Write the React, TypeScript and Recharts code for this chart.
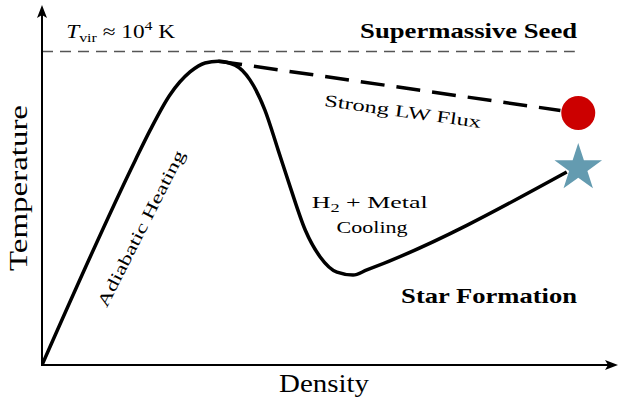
import { ComposedChart, Line, XAxis, YAxis, ReferenceLine, ReferenceDot, Label } from "recharts";

// thermal track of the collapsing gas (arbitrary units)
const trackDensity = [0, 1.62, 1.88, 2.22, 2.57, 2.83, 3.06, 3.35, 3.61, 3.87, 4.1, 4.31, 4.57, 4.83, 5.12, 5.4, 5.64, 9.11];
const trackTemperature = [0, 5.69, 6.53, 7.5, 8.14, 8.39, 8.44, 8.33, 7.92, 7.08, 5.97, 4.94, 3.75, 3.0, 2.58, 2.5, 2.64, 5.36];

// branch kept hot by a strong Lyman-Werner background
const lwDensity = [3.06, 9.0];
const lwTemperature = [8.44, 7.07];

// end states: direct-collapse seed (circle) and star formation (star)
const seedDensity = 9.31;
const seedTemperature = 7.0;
const starDensity = 9.31;
const starTemperature = 5.47;

const virialTemperature = 8.71;
const virialDensityEnd = 9.25;

const track = trackDensity.map((x, i) => ({ x, y: trackTemperature[i] }));
const lwTrack = lwDensity.map((x, i) => ({ x, y: lwTemperature[i] }));

const FONT = "'Liberation Serif', 'DejaVu Serif', serif";

const Arrow = (props: any) => {
  const { x1, y1, x2, y2 } = props;
  const len = Math.hypot(x2 - x1, y2 - y1);
  const ux = (x2 - x1) / len;
  const uy = (y2 - y1) / len;
  const head = 13;
  const half = 5;
  const bx = x2 - ux * head;
  const by = y2 - uy * head;
  const pts = [
    `${x2},${y2}`,
    `${bx - uy * half},${by + ux * half}`,
    `${bx + ux * 3},${by + uy * 3}`,
    `${bx + uy * half},${by - ux * half}`,
  ].join(" ");
  return (
    <g>
      <line x1={x1 - ux} y1={y1 - uy} x2={bx + ux * 4} y2={by + uy * 4} stroke="#000" strokeWidth={2} />
      <polygon points={pts} fill="#000" />
    </g>
  );
};

const Star = (props: any) => {
  const { cx, cy } = props;
  const R = 25;
  const r = 9.6;
  const pts: string[] = [];
  for (let i = 0; i < 10; i++) {
    const rad = i % 2 === 0 ? R : r;
    const a = -Math.PI / 2 + (i * Math.PI) / 5;
    pts.push(`${cx + rad * Math.cos(a)},${cy + rad * Math.sin(a)}`);
  }
  return <polygon points={pts.join(" ")} fill="#649bb0" />;
};

const textAt =
  (content: any, opts: { size: number; bold?: boolean; anchor?: string; angle?: number; length?: number }) =>
  (props: any) => {
    const { cx, cy } = props;
    return (
      <text
        x={cx}
        y={cy}
        fontFamily={FONT}
        fontSize={opts.size}
        fontWeight={opts.bold ? "bold" : "normal"}
        textAnchor={opts.anchor ?? "middle"}
        fill="#000"
        textLength={opts.length}
        lengthAdjust="spacingAndGlyphs"
        transform={opts.angle ? `rotate(${opts.angle} ${cx} ${cy})` : undefined}
      >
        {content}
      </text>
    );
  };

const DensityLabel = (props: any) => {
  const { x, y, width } = props.viewBox;
  return (
    <text x={x + width / 2 - 6} y={y + 27} fontFamily={FONT} fontSize={25} textAnchor="middle" textLength={90} lengthAdjust="spacingAndGlyphs">
      Density
    </text>
  );
};

const TemperatureLabel = (props: any) => {
  const { y, height } = props.viewBox;
  const cx = 27;
  const cy = y + height / 2 + 3;
  return (
    <text
      x={cx}
      y={cy}
      fontFamily={FONT}
      fontSize={25}
      textAnchor="middle"
      textLength={166}
      lengthAdjust="spacingAndGlyphs"
      transform={`rotate(-90 ${cx} ${cy})`}
    >
      Temperature
    </text>
  );
};

export default function App() {
  return (
    <div style={{ position: "fixed", left: 0, top: 0, width: 619, height: 401, background: "#fff" }}>
      <ComposedChart width={619} height={401} margin={{ top: 5, right: 1, bottom: 0, left: 0 }}>
        <XAxis
          type="number"
          dataKey="x"
          domain={[0, 10]}
          allowDataOverflow
          tick={false}
          tickLine={false}
          axisLine={false}
          height={36}
        >
          <Label content={DensityLabel} />
        </XAxis>
        <YAxis type="number" domain={[0, 10]} allowDataOverflow tick={false} tickLine={false} axisLine={false} width={42}>
          <Label content={TemperatureLabel} />
        </YAxis>

        <ReferenceLine
          segment={[{ x: 0, y: virialTemperature }, { x: virialDensityEnd, y: virialTemperature }]}
          stroke="#555"
          strokeWidth={1.5}
          strokeDasharray="11 7"
        />
        <ReferenceLine segment={[{ x: 0, y: 0 }, { x: 10, y: 0 }]} shape={Arrow} />
        <ReferenceLine segment={[{ x: 0, y: 0 }, { x: 0, y: 10 }]} shape={Arrow} />

        <Line
          data={track}
          dataKey="y"
          type="monotone"
          stroke="#000"
          strokeWidth={3.5}
          dot={false}
          activeDot={false}
          isAnimationActive={false}
        />
        <Line
          data={lwTrack}
          dataKey="y"
          type="linear"
          stroke="#000"
          strokeWidth={3.5}
          strokeDasharray="24 12"
          dot={false}
          activeDot={false}
          isAnimationActive={false}
        />

        <ReferenceDot x={seedDensity} y={seedTemperature} r={17} fill="#cc0000" stroke="none" />
        <ReferenceDot x={starDensity} y={starTemperature} shape={Star} />

        <ReferenceDot
          x={0.42}
          y={9.08}
          shape={textAt(
            <>
              <tspan fontStyle="italic">T</tspan>
              <tspan fontSize={13} dy={4}>vir</tspan>
              <tspan dy={-4}> ≈ 10</tspan>
              <tspan fontSize={13} dy={-8}>4</tspan>
              <tspan dy={8}> K</tspan>
            </>,
            { size: 19, anchor: "start", length: 109 }
          )}
        />
        <ReferenceDot x={9.29} y={9.08} shape={textAt("Supermassive Seed", { size: 21, bold: true, anchor: "end", length: 217 })} />
        <ReferenceDot x={9.29} y={1.72} shape={textAt("Star Formation", { size: 21, bold: true, anchor: "end", length: 176 })} />
        <ReferenceDot x={6.25} y={6.89} shape={textAt("Strong LW Flux", { size: 17, angle: 8, length: 158 })} />
        <ReferenceDot x={1.806} y={3.72} shape={textAt("Adiabatic Heating", { size: 17, angle: -63, length: 173 })} />
        <ReferenceDot
          x={5.69}
          y={4.36}
          shape={textAt(
            <>
              <tspan>H</tspan>
              <tspan fontSize={12} dy={4}>2</tspan>
              <tspan dy={-4}> + Metal</tspan>
            </>,
            { size: 17, length: 116 }
          )}
        />
        <ReferenceDot x={5.73} y={3.67} shape={textAt("Cooling", { size: 17, length: 71 })} />
      </ComposedChart>
    </div>
  );
}
